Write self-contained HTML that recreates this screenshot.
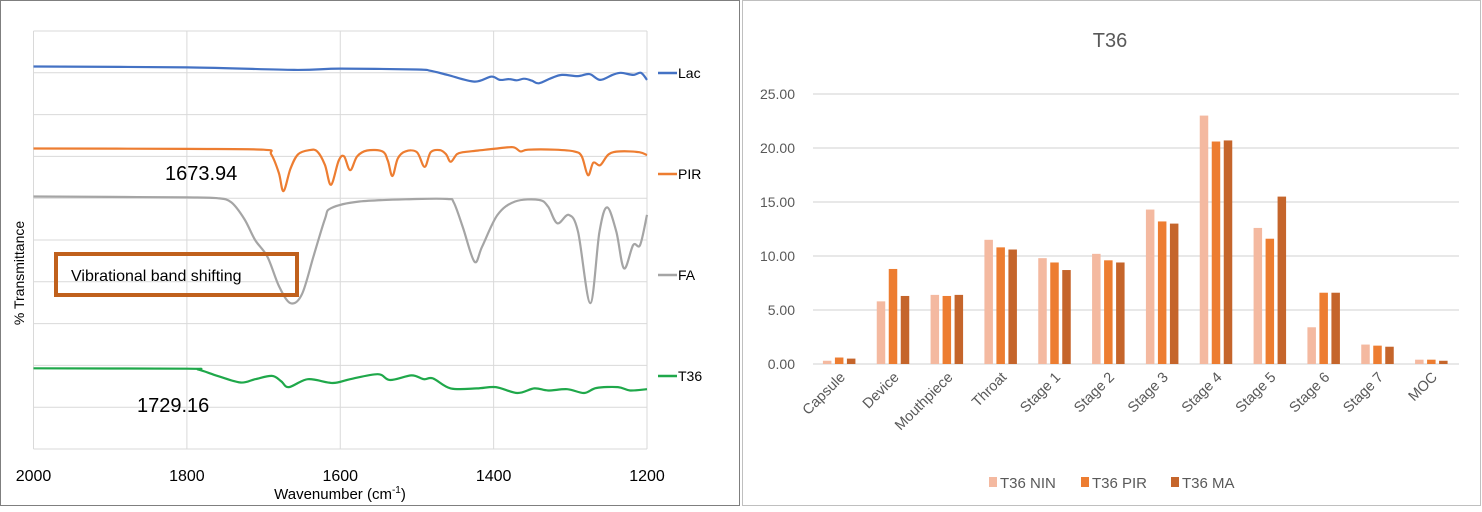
<!DOCTYPE html>
<html><head><meta charset="utf-8"><style>
body{margin:0;background:#fff;width:1482px;height:507px;overflow:hidden;font-family:"Liberation Sans",sans-serif}
svg text{font-family:"Liberation Sans",sans-serif}
</style></head><body>
<svg id="s" width="1482" height="507" xmlns="http://www.w3.org/2000/svg">
<rect x="0.5" y="0.5" width="739" height="505" fill="#fff" stroke="#7f7f7f"/>
<rect x="742.5" y="0.5" width="738" height="505" fill="#fff" stroke="#bfbfbf"/>
<g id="left"></g>
<g id="right"></g>
</svg>
<script>
// ---------- FTIR data ----------
const xTicks=[2000,1800,1600,1400,1200];
const lacW=[2000,1800,1660,1600,1500,1483,1460,1425,1403,1392,1380,1370,1360,1350,1341,1325,1311,1290,1275,1261,1245,1234,1218,1208,1200];
const lacV=[9.15,9.13,9.07,9.10,9.08,9.05,8.95,8.79,8.91,8.83,8.85,8.82,8.86,8.81,8.75,8.87,8.95,8.92,8.97,8.83,8.95,9.0,8.95,9.0,8.83];
const pirW=[2000,1800,1700,1690,1680,1674,1665,1655,1640,1630,1620,1612,1602,1595,1587,1578,1565,1545,1538,1532,1525,1515,1500,1490,1482,1470,1462,1456,1448,1440,1420,1400,1375,1365,1355,1320,1295,1285,1277,1270,1261,1250,1235,1210,1200];
const pirV=[7.19,7.18,7.16,7.05,6.6,6.17,6.7,7.05,7.15,7.12,6.8,6.32,6.9,7.0,6.67,7.0,7.14,7.12,6.9,6.53,6.95,7.12,7.1,6.75,7.1,7.15,7.05,6.87,7.05,7.1,7.14,7.18,7.22,7.12,7.16,7.16,7.12,7.0,6.55,6.85,6.79,7.05,7.12,7.1,7.03];
const faW=[2000,1900,1800,1760,1742,1725,1711,1695,1680,1665,1650,1635,1620,1612,1575,1500,1460,1452,1440,1425,1415,1395,1372,1341,1329,1317,1302,1290,1274,1262,1252,1240,1230,1218,1209,1200];
const faV=[6.04,6.03,6.02,6.0,5.9,5.5,5.0,4.6,3.9,3.49,3.7,4.6,5.5,5.76,5.92,5.98,5.98,5.9,5.3,4.48,4.84,5.6,5.92,5.96,5.8,5.4,5.6,5.2,3.49,5.2,5.78,5.2,4.32,4.88,4.88,5.6];
const t36W=[2000,1800,1785,1760,1730,1711,1689,1677,1667,1642,1610,1587,1551,1535,1507,1491,1479,1456,1422,1397,1369,1347,1329,1304,1282,1266,1238,1222,1200];
const t36V=[1.93,1.92,1.90,1.75,1.59,1.67,1.75,1.62,1.48,1.67,1.58,1.67,1.79,1.65,1.76,1.67,1.69,1.45,1.45,1.48,1.34,1.45,1.40,1.43,1.34,1.46,1.48,1.40,1.43];
const seriesNames=['Lac','PIR','FA','T36'];

// ---------- bar data ----------
const cats=['Capsule','Device','Mouthpiece','Throat','Stage 1','Stage 2','Stage 3','Stage 4','Stage 5','Stage 6','Stage 7','MOC'];
const nin=[0.3,5.8,6.4,11.5,9.8,10.2,14.3,23.0,12.6,3.4,1.8,0.4];
const pir=[0.6,8.8,6.3,10.8,9.4,9.6,13.2,20.6,11.6,6.6,1.7,0.4];
const ma=[0.5,6.3,6.4,10.6,8.7,9.4,13.0,20.7,15.5,6.6,1.6,0.3];
const yTicks=[0,5,10,15,20,25];
const barSeries=['T36 NIN','T36 PIR','T36 MA'];

const NS='http://www.w3.org/2000/svg';
function mk(p,t,a,txt){const e=document.createElementNS(NS,t);for(const k in a)e.setAttribute(k,a[k]);if(txt!=null)e.textContent=txt;p.appendChild(e);return e;}
function smooth(pts){let d='M'+pts[0][0].toFixed(1)+' '+pts[0][1].toFixed(1);
 for(let i=0;i<pts.length-1;i++){const p0=pts[Math.max(0,i-1)],p1=pts[i],p2=pts[i+1],p3=pts[Math.min(pts.length-1,i+2)];
  const c1=[p1[0]+(p2[0]-p0[0])/6,p1[1]+(p2[1]-p0[1])/6],c2=[p2[0]-(p3[0]-p1[0])/6,p2[1]-(p3[1]-p1[1])/6];
  d+=' C'+c1.map(v=>v.toFixed(1)).join(' ')+' '+c2.map(v=>v.toFixed(1)).join(' ')+' '+p2[0].toFixed(1)+' '+p2[1].toFixed(1);}
 return d;}

// ---- left chart ----
const L=document.getElementById('left');
const lx=w=>33.5+(2000-w)/800*613.5;
const ly=v=>449-v*41.8;
for(let i=0;i<=10;i++){const g=mk(L,'line',{x1:33.5,x2:647,y1:ly(i),y2:ly(i),stroke:'#d9d9d9','stroke-width':1});

}
xTicks.forEach(t=>{const g=mk(L,'line',{x1:lx(t),x2:lx(t),y1:31,y2:449,stroke:'#d9d9d9'});


const tx=mk(L,'text',{x:lx(t),y:481,'font-size':16,'text-anchor':'middle',fill:'#000'},String(t));

});
const cols=['#4472C4','#ED7D31','#A5A5A5','#1FA84A'];
const Ws=[lacW,pirW,faW,t36W],Vs=[lacV,pirV,faV,t36V];
const legY=[73,174,275,376];
for(let s=0;s<4;s++){
 const pts=Ws[s].map((w,i)=>[lx(w),ly(Vs[s][i])]);
 const p=mk(L,'path',{d:smooth(pts),fill:'none',stroke:cols[s],'stroke-width':2.2,'stroke-linejoin':'round'});
 
 
 const ll=mk(L,'line',{x1:658,x2:677,y1:legY[s],y2:legY[s],stroke:cols[s],'stroke-width':2.5});
 
 
 const lt=mk(L,'text',{x:678,y:legY[s]+5,'font-size':14,fill:'#000'},seriesNames[s]);
 
 
}
let e;
e=mk(L,'text',{x:340,y:499,'font-size':15,'text-anchor':'middle'});e.innerHTML='Wavenumber  (cm<tspan dy="-6" font-size="10">-1</tspan><tspan dy="6">)</tspan>';


e=mk(L,'text',{x:0,y:0,'font-size':14,'text-anchor':'middle',transform:'translate(24,273) rotate(-90)'},'% Transmittance');


e=mk(L,'text',{x:165,y:180,'font-size':20},'1673.94');


e=mk(L,'text',{x:137,y:412,'font-size':20},'1729.16');


e=mk(L,'rect',{x:56,y:254,width:241,height:41,fill:'none',stroke:'#C0601C','stroke-width':4});


e=mk(L,'text',{x:71,y:281,'font-size':16},'Vibrational band shifting');



// ---- right chart ----
const R=document.getElementById('right');
const by=v=>364-v*10.8;
const x0=813,x1=1459,cw=(x1-x0)/cats.length;
yTicks.forEach(t=>{const g=mk(R,'line',{x1:x0,x2:x1,y1:by(t),y2:by(t),stroke:'#d9d9d9','stroke-width':1.2});


const tx=mk(R,'text',{x:795,y:by(t)+5,'font-size':14,'text-anchor':'end',fill:'#595959'},t.toFixed(2));

});
const bcols=['#F4B9A0','#ED7D31','#C5652B'];
const bdata=[nin,pir,ma];
cats.forEach((c,i)=>{
 const cx=x0+cw*(i+0.5);
 for(let s=0;s<3;s++){
  const h=bdata[s][i]*10.8;
  const r=mk(R,'rect',{x:cx-17+s*12,y:by(bdata[s][i]),width:8.5,height:h,fill:bcols[s]});
  
  
 }
 const t=mk(R,'text',{x:0,y:0,'font-size':14.5,'text-anchor':'end',fill:'#595959',transform:`translate(${cx+6},${378}) rotate(-45)`},c);
 
 
});
e=mk(R,'text',{x:1110,y:47,'font-size':20,'text-anchor':'middle',fill:'#595959'},'T36');


const lxs=[989,1081,1171];
barSeries.forEach((n,s)=>{
 const r=mk(R,'rect',{x:lxs[s],y:477,width:8,height:10,fill:bcols[s]});
 
 
 const t=mk(R,'text',{x:lxs[s]+11,y:488,'font-size':15,fill:'#595959'},n);
 
 
});
</script>
</body></html>
